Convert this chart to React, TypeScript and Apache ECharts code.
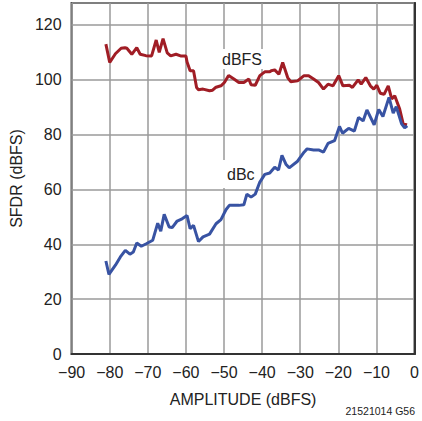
import React, { useEffect, useRef } from "react";
import * as echarts from "echarts";

const xTicks = [-90, -80, -70, -60, -50, -40, -30, -20, -10, 0];
const yTicks = [0, 20, 40, 60, 80, 100, 120];

const dbfsData: [number, number][] = [
  [-81, 113], [-80, 106.3], [-78.5, 109.5], [-77, 111.5], [-76, 111.7], [-75.5, 111.5],
  [-74.2, 109.3], [-72.9, 111.7], [-72, 109.3], [-70.5, 108.8], [-69, 108.7], [-67.8, 114.5],
  [-67, 110], [-66, 115], [-64.9, 109.8], [-64, 108.7], [-62.6, 109.3], [-61.4, 108.7],
  [-60, 108.7], [-59.7, 106.5], [-58.9, 103.3], [-58, 103.3], [-57.2, 97.2], [-56.7, 96.4],
  [-55.5, 96.6], [-53.8, 96], [-53, 96.2], [-52.1, 97.3], [-50.8, 97.8], [-49.9, 99],
  [-48.8, 101.6], [-47.4, 100.3], [-46.1, 99], [-44.8, 99], [-43.5, 100.3], [-42.9, 98.2],
  [-41.8, 98], [-40.6, 101.5], [-39.3, 102.9], [-38, 102.9], [-37.6, 103.3], [-36.7, 103.6],
  [-35.6, 102], [-34.6, 106.3], [-33.3, 100.8], [-32.5, 99.3], [-30.7, 99.6], [-29, 101.5],
  [-27.8, 101.5], [-26.5, 100.3], [-25.2, 99], [-23.9, 96.6], [-22.7, 98.4], [-21.4, 97.8],
  [-19.9, 101.5], [-18.8, 97.8], [-17.1, 98], [-16.3, 97.2], [-14.8, 100], [-14, 98.4],
  [-12.8, 100.8], [-11.6, 97.8], [-10.7, 96.6], [-9.9, 98], [-9, 95.1], [-8, 94.7],
  [-6.9, 97.8], [-6, 93], [-5.2, 94.2], [-3.9, 89.3], [-3, 84], [-2, 83.5],
];

const dbcData: [number, number][] = [
  [-81, 33.9], [-80.2, 29], [-78.5, 32.4], [-77.2, 35.4], [-75.9, 37.8], [-74.7, 36.4],
  [-73.8, 37.2], [-72.9, 40.5], [-71.7, 39.3], [-70.4, 40.2], [-68.7, 41.5], [-67.4, 47.7],
  [-66.6, 44.8], [-65.7, 50.9], [-64.4, 46.3], [-63.6, 46.1], [-62.3, 48.5], [-61, 49.3],
  [-59.7, 50.5], [-58.9, 45.7], [-58, 46.9], [-56.7, 41], [-55.5, 42.7], [-53.8, 43.7],
  [-52.1, 47.5], [-50.8, 49], [-49.5, 52.6], [-48.6, 54.2], [-46.1, 54.2], [-44.8, 54.4],
  [-44, 58.3], [-42.9, 57.2], [-41.8, 58.3], [-40.6, 62.7], [-39.3, 65.5], [-38, 66],
  [-36.7, 68.1], [-35.7, 67.1], [-34.8, 72.4], [-33.7, 69.1], [-32.9, 67.9], [-30.7, 70.3],
  [-29, 73.6], [-28.2, 74.8], [-26.5, 74.4], [-25.2, 74.4], [-23.9, 73.6], [-22.7, 76.8],
  [-21, 77.8], [-19.7, 83], [-18.9, 80.5], [-17.3, 82.3], [-15.8, 81.3], [-14.7, 86.3],
  [-13.5, 85], [-12.5, 89], [-10.6, 83.6], [-9.4, 89.2], [-8.3, 86.6], [-6.7, 93.6],
  [-5.6, 87.8], [-4.8, 90.2], [-3.4, 83.9], [-2.6, 82.5], [-1.9, 83.2],
];

const FONT = "'Liberation Sans', Arial, sans-serif";
const fmt = (v: number) => (v < 0 ? "\u2212" + Math.abs(v) : String(v));

export default function App() {
  const ref = useRef<HTMLDivElement>(null);
  useEffect(() => {
    if (!ref.current) return;
    const chart = echarts.init(ref.current, undefined, { renderer: "svg" });
    chart.setOption({
      animation: false,
      backgroundColor: "#ffffff",
      grid: {
        left: 65, top: 3, width: 352, height: 351,
        show: true, borderColor: "#333333", borderWidth: 2, backgroundColor: "transparent",
      },
      xAxis: {
        type: "value",
        min: xTicks[0], max: xTicks[xTicks.length - 1], interval: 10,
        name: "AMPLITUDE (dBFS)", nameLocation: "middle", nameGap: 37,
        nameTextStyle: { fontFamily: FONT, fontSize: 16, color: "#222" },
        axisLine: { show: true, onZero: false, lineStyle: { color: "#333", width: 2 } },
        axisTick: { show: false },
        axisLabel: { formatter: fmt, fontFamily: FONT, fontSize: 16, color: "#222", margin: 10 },
        splitLine: { show: true, lineStyle: { color: "#9a9a9a", width: 1.5 } },
      },
      yAxis: {
        type: "value",
        min: yTicks[0], max: 128, interval: 20,
        name: "SFDR (dBFS)", nameLocation: "middle", nameGap: 39,
        nameTextStyle: { fontFamily: FONT, fontSize: 16, color: "#222" },
        axisLine: { show: true, lineStyle: { color: "#333", width: 2 } },
        axisTick: { show: false },
        axisLabel: { showMaxLabel: false, fontFamily: FONT, fontSize: 16, color: "#222", margin: 10 },
        splitLine: { show: true, lineStyle: { color: "#9a9a9a", width: 1.5 } },
      },
      series: [
        {
          type: "line", name: "dBFS", data: dbfsData, showSymbol: false, z: 5,
          lineStyle: { color: "#a01d25", width: 3 }, itemStyle: { color: "#a01d25" },
        },
        {
          type: "line", name: "dBc", data: dbcData, showSymbol: false, z: 5,
          lineStyle: { color: "#3853a3", width: 3 }, itemStyle: { color: "#3853a3" },
        },
      ],
      graphic: [
        {
          type: "text", left: 219, top: 49, z: 1,
          style: {
            text: "dBFS", fontFamily: FONT, fontSize: 16, fill: "#222",
            backgroundColor: "#fff", padding: [2, 2, 2, 3],
          },
        },
        {
          type: "text", left: 220, top: 160, z: 1,
          style: {
            text: "dBc", fontFamily: FONT, fontSize: 16, fill: "#222",
            backgroundColor: "#fff", padding: [6, 3, 6, 7],
          },
        },
        {
          type: "text", right: 7, top: 405,
          style: { text: "21521014 G56", fontFamily: FONT, fontSize: 10.5, fill: "#222" },
        },
      ],
    });
    return () => chart.dispose();
  }, []);
  return (
    <div
      ref={ref}
      style={{ position: "fixed", left: 0, top: 0, width: 422, height: 421, background: "#fff" }}
    />
  );
}
